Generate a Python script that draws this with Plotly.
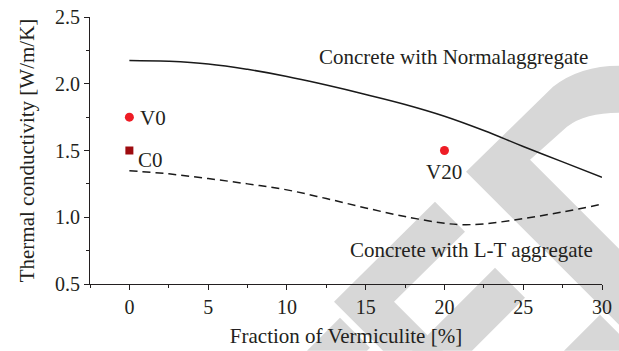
import plotly.graph_objects as go

# ---- data ----
normal_x = [0, 2.5, 5, 7.5, 10, 12.5, 15, 17.5, 20, 22.5, 25, 27.5, 30]
normal_y = [2.175, 2.168, 2.148, 2.108, 2.055, 1.99, 1.92, 1.845, 1.757, 1.65, 1.53, 1.415, 1.30]
lt_x = [0, 2.5, 5, 7.5, 10, 12.5, 15, 17.5, 20, 21, 22.5, 25, 27.5, 30]
lt_y = [1.348, 1.325, 1.29, 1.25, 1.205, 1.14, 1.07, 1.005, 0.955, 0.945, 0.95, 0.99, 1.04, 1.098]
v_x = [0, 20]
v_y = [1.75, 1.50]
v_labels = ["V0", "V20"]
c_x = [0]
c_y = [1.50]
c_labels = ["C0"]

FONT = "Liberation Serif"
TXT = "#231f20"
GREY = "#d7d7d7"

fig = go.Figure()

fig.add_trace(go.Scatter(x=normal_x, y=normal_y, mode="lines",
                         line=dict(color="#1a1a1a", width=1.5, shape="spline", smoothing=1.2),
                         showlegend=False, hoverinfo="skip"))
fig.add_trace(go.Scatter(x=lt_x, y=lt_y, mode="lines",
                         line=dict(color="#1a1a1a", width=1.5, dash="8px,5px", shape="spline", smoothing=1.0),
                         showlegend=False, hoverinfo="skip"))
fig.add_trace(go.Scatter(x=v_x, y=v_y, mode="markers",
                         marker=dict(symbol="circle", size=9, color="#ee1c25"),
                         showlegend=False))
fig.add_trace(go.Scatter(x=c_x, y=c_y, mode="markers",
                         marker=dict(symbol="square", size=8, color="#9e0b0f"),
                         showlegend=False))

# point labels
fig.add_annotation(x=v_x[0], y=v_y[0], text=v_labels[0], showarrow=False,
                   xanchor="left", yanchor="middle", xshift=9, yshift=-1,
                   font=dict(family=FONT, size=21, color=TXT))
fig.add_annotation(x=v_x[1], y=v_y[1], text=v_labels[1], showarrow=False,
                   xanchor="center", yanchor="top", yshift=-7,
                   font=dict(family=FONT, size=21, color=TXT))
fig.add_annotation(x=c_x[0], y=c_y[0], text=c_labels[0], showarrow=False,
                   xanchor="left", yanchor="top", xshift=7, yshift=5,
                   font=dict(family=FONT, size=21, color=TXT))
# curve labels
fig.add_annotation(x=20.6, y=2.20, text="Concrete with Normalaggregate", showarrow=False,
                   xanchor="center", yanchor="middle",
                   font=dict(family=FONT, size=21, color=TXT))
fig.add_annotation(x=21.7, y=0.757, text="Concrete with L-T aggregate", showarrow=False,
                   xanchor="center", yanchor="middle",
                   font=dict(family=FONT, size=21, color=TXT))

# ---- watermark (decoration, pixel -> paper) ----
L, T, W, H = 90, 17.3, 512, 267
def P(px, py):
    return f"{(px - L) / W:.4f},{(T + H - py) / H:.4f}"

wm_paths = [
    # big right chevron with curved top arm
    f"M{P(466,172)} L{P(553,87)} Q{P(580,66)} {P(619,66)} L{P(619,113)} Q{P(585,113)} {P(567,127)} "
    f"L{P(530,160)} L{P(619,249)} L{P(619,325)} Z",
    # middle chevron
    f"M{P(435,202)} L{P(465,232)} L{P(394,302)} L{P(443,351)} L{P(383,351)} L{P(334,302)} Z",
    # band behind lower middle
    f"M{P(495,268)} L{P(525,298)} L{P(472,351)} L{P(412,351)} Z",
    # small band bottom right
    f"M{P(600,315)} L{P(630,345)} L{P(624,351)} L{P(564,351)} Z",
    # band behind 'of V'
    f"M{P(340,318)} L{P(370,348)} L{P(367,351)} L{P(307,351)} Z",
]
for p in wm_paths:
    fig.add_shape(type="path", path=p, xref="paper", yref="paper",
                  fillcolor=GREY, line=dict(width=0), layer="below")

axis_common = dict(showline=True, linecolor=TXT, linewidth=1.2,
                   ticks="outside", ticklen=5, tickwidth=1.2, tickcolor=TXT,
                   showgrid=False, zeroline=False, mirror=False, automargin=False,
                   tickfont=dict(family=FONT, size=20, color=TXT))

fig.update_layout(
    width=619, height=351,
    margin=dict(l=90, r=17, t=17, b=67, autoexpand=False),
    paper_bgcolor="white", plot_bgcolor="rgba(0,0,0,0)",
    showlegend=False,
    xaxis=dict(range=[-2.5, 30], tickmode="linear", tick0=0, dtick=5,
               minor=dict(ticks="outside", ticklen=3, tickwidth=1, tickcolor=TXT, dtick=2.5, tick0=0),
               title=dict(text="Fraction of Vermiculite [%]", standoff=11,
                          font=dict(family=FONT, size=21, color=TXT)),
               **axis_common),
    yaxis=dict(range=[0.5, 2.5], tickmode="linear", tick0=0.5, dtick=0.5, tickformat=".1f",
               minor=dict(ticks="outside", ticklen=3, tickwidth=1, tickcolor=TXT, dtick=0.25, tick0=0.5),
               title=dict(text="Thermal conductivity [W/m/K]", standoff=14,
                          font=dict(family=FONT, size=21, color=TXT)),
               **axis_common),
)

fig.write_html("out.html", config={"displayModeBar": False},
               post_script="document.body.style.margin='0';document.body.style.overflow='hidden';")
